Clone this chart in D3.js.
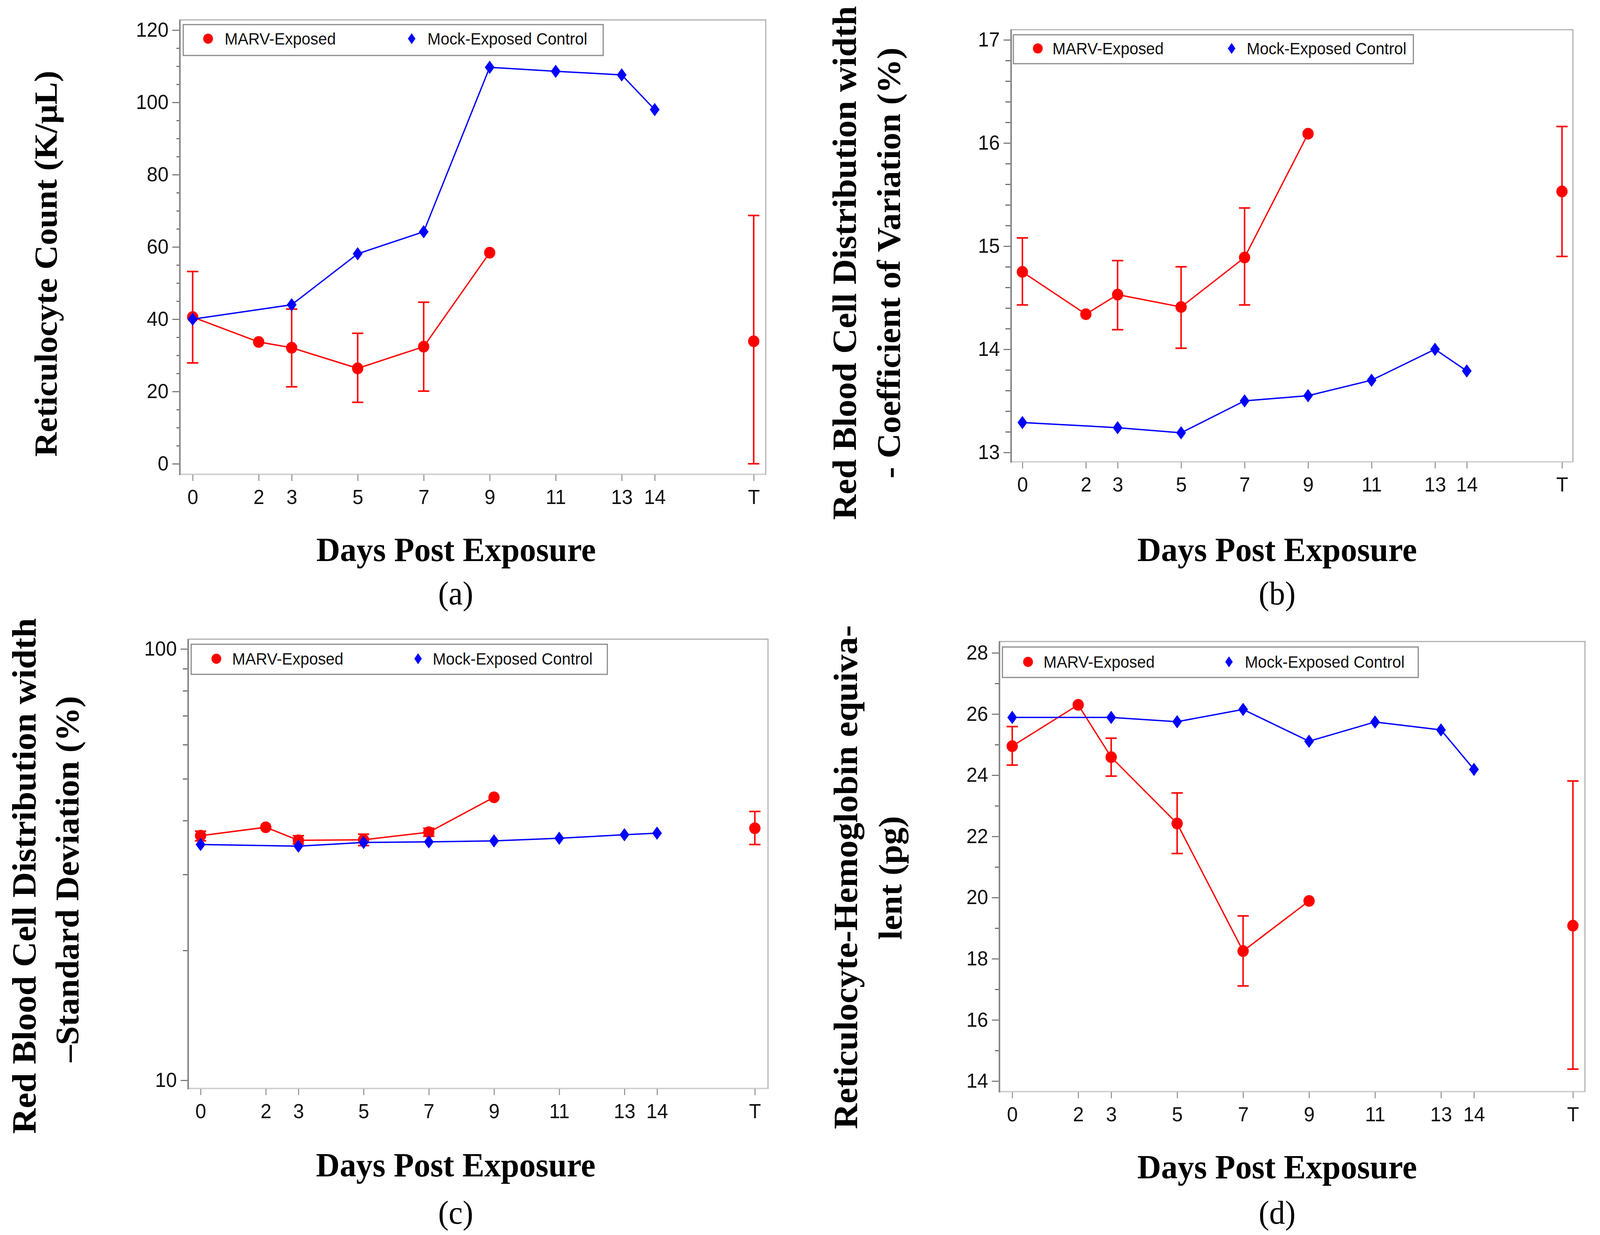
<!DOCTYPE html>
<html><head><meta charset="utf-8">
<script src="https://cdn.jsdelivr.net/npm/d3@7/dist/d3.min.js"></script>
<style>html,body{margin:0;padding:0;background:#fff;overflow:hidden;width:100%;height:100%;}
svg{display:block;width:100vw;height:100vh;}</style>
</head><body>
<svg id="chart" viewBox="0 0 4252 3161" preserveAspectRatio="none"></svg>
<script>
// ---------------- DATA ----------------
const xTickValues = [0, 2, 3, 5, 7, 9, 11, 13, 14, 17];
const xTickLabels = ["0", "2", "3", "5", "7", "9", "11", "13", "14", "T"];
const marvDays = [0, 2, 3, 5, 7, 9, 17];   // 17 = terminal (T)
const mockDays = [0, 3, 5, 7, 9, 11, 13, 14];
const seriesNames = ["MARV-Exposed", "Mock-Exposed Control"];

// (a) Reticulocyte count (K/uL)
const reticMarvMean = [40.6, 33.7, 32.1, 26.4, 32.4, 58.4, 33.9];
const reticMarvLo   = [27.9, null, 21.3, 17.0, 20.1, null, 0.0];
const reticMarvHi   = [53.2, null, 42.8, 36.1, 44.7, null, 68.7];
const reticMock     = [40.0, 44.0, 58.1, 64.2, 109.7, 108.6, 107.6, 98.0];

// (b) RDW-CV (%)
const rdwcvMarvMean = [14.75, 14.34, 14.53, 14.41, 14.89, 16.09, 15.53];
const rdwcvMarvLo   = [14.43, null, 14.19, 14.01, 14.43, null, 14.90];
const rdwcvMarvHi   = [15.08, null, 14.86, 14.80, 15.37, null, 16.16];
const rdwcvMock     = [13.29, 13.24, 13.19, 13.50, 13.55, 13.70, 14.00, 13.79];

// (c) RDW-SD (log scale)
const rdwsdMarvMean = [36.9, 38.6, 36.0, 36.1, 37.6, 45.3, 38.4];
const rdwsdMarvLo   = [35.9, null, 35.3, 35.0, 36.8, null, 35.2];
const rdwsdMarvHi   = [37.8, null, 36.9, 37.2, 38.4, null, 42.0];
const rdwsdMock     = [35.2, 34.9, 35.6, 35.7, 35.9, 36.4, 37.1, 37.4];

// (d) Reticulocyte hemoglobin equivalent (pg)
const retheMarvMean = [24.95, 26.30, 24.59, 22.42, 18.25, 19.89, 19.08];
const retheMarvLo   = [24.33, null, 23.97, 21.44, 17.11, null, 14.39];
const retheMarvHi   = [25.59, null, 25.21, 23.42, 19.40, null, 23.81];
const retheMock     = [25.89, 25.89, 25.75, 26.15, 25.11, 25.74, 25.48, 24.19];

const yTicksA = [0, 20, 40, 60, 80, 100, 120];
const yTicksB = [13, 14, 15, 16, 17];
const yTicksC = [10, 100];
const yTicksD = [14, 16, 18, 20, 22, 24, 26, 28];

const yTitleA = ["Reticulocyte Count (K/\u03bcL)"];
const yTitleB = ["Red Blood Cell Distribution width", "- Coefficient of Variation (%)"];
const yTitleC = ["Red Blood Cell Distribution width", "\u2013Standard Deviation (%)"];
const yTitleD = ["Reticulocyte-Hemoglobin equiva-", "lent (pg)"];
const xTitle = "Days Post Exposure";
const panelLabels = ["(a)", "(b)", "(c)", "(d)"];

// ---------------- LAYOUT ----------------
const RED = "#ff0000", BLUE = "#0000ff";
const SANS = "'Liberation Sans', Arial, sans-serif";
const SERIF = "'Liberation Serif', 'Times New Roman', serif";
const svg = d3.select("#chart");

const panels = [
  { label: panelLabels[0], frame: [478, 51, 2035, 1214], x: [512, 2003], yType: "lin",
    yDom: [0, 120], yRng: [1187, 77], yTicks: yTicksA, minorStep: 5, minorLen: 7,
    mean: reticMarvMean, lo: reticMarvLo, hi: reticMarvHi, mock: reticMock,
    legend: { box: [487, 63, 1603, 142], my: 99, rx: 553, rt: 597, bx: 1094, bt: 1136 },
    yTitle: yTitleA, yTitlePos: [[122, 675, 988]], xTitlePos: [1212, 1436], labPos: [1211, 1547] },
  { label: panelLabels[1], frame: [2687, 76, 4180, 1182], x: [2717, 4151], yType: "lin",
    yDom: [13, 17], yRng: [1158, 102], yTicks: yTicksB, minorStep: 0.2, minorLen: 13,
    mean: rdwcvMarvMean, lo: rdwcvMarvLo, hi: rdwcvMarvHi, mock: rdwcvMock,
    legend: { box: [2693, 89, 3756, 163], my: 124, rx: 2758, rt: 2797, bx: 3273, bt: 3313 },
    yTitle: yTitleB, yTitlePos: [[2245, 673, 1315], [2363, 673, 1103]], xTitlePos: [3394, 1436], labPos: [3394, 1547] },
  { label: panelLabels[2], frame: [500, 1636, 2041, 2786], x: [533, 2006], yType: "log",
    yDom: [10, 100], yRng: [2765, 1661], yTicks: yTicksC, minorLen: 12,
    mean: rdwsdMarvMean, lo: rdwsdMarvLo, hi: rdwsdMarvHi, mock: rdwsdMock,
    legend: { box: [508, 1649, 1614, 1726], my: 1686, rx: 575, rt: 617, bx: 1111, bt: 1150 },
    yTitle: yTitleC, yTitlePos: [[65, 2242, 1320], [180, 2250, 937]], xTitlePos: [1211, 3011], labPos: [1211, 3132] },
  { label: panelLabels[3], frame: [2656, 1642, 4212, 2794], x: [2690, 4180], yType: "lin",
    yDom: [14, 28], yRng: [2767, 1671], yTicks: yTicksD, minorStep: 1, minorLen: 10,
    mean: retheMarvMean, lo: retheMarvLo, hi: retheMarvHi, mock: retheMock,
    legend: { box: [2664, 1656, 3769, 1734], my: 1694, rx: 2732, rt: 2773, bx: 3266, bt: 3308 },
    yTitle: yTitleD, yTitlePos: [[2248, 2245, 1290], [2367, 2247, 317]], xTitlePos: [3394, 3016], labPos: [3394, 3132] }
];

function fitText(sel, target) {
  const len = sel.node().getComputedTextLength();
  const fs = parseFloat(sel.attr("font-size"));
  sel.attr("font-size", fs * target / len);
}

const diamond = (cx, cy, w, h) => `M${cx},${cy - h}L${cx + w},${cy}L${cx},${cy + h}L${cx - w},${cy}Z`;

panels.forEach(p => {
  const g = svg.append("g");
  const [L, T, R, B] = p.frame;
  const x = d3.scaleLinear().domain([0, 17]).range(p.x);
  const y = (p.yType === "log" ? d3.scaleLog() : d3.scaleLinear()).domain(p.yDom).range(p.yRng);

  // frame
  g.append("rect").attr("x", L).attr("y", T).attr("width", R - L).attr("height", B - T)
    .attr("fill", "#fff").attr("stroke", "#b0b0b0").attr("stroke-width", 3);
  g.append("line").attr("x1", L).attr("x2", R).attr("y1", B).attr("y2", B)
    .attr("stroke", "#d0d0d0").attr("stroke-width", 3);
  g.append("line").attr("x1", L).attr("x2", L).attr("y1", T).attr("y2", B + 2)
    .attr("stroke", "#808080").attr("stroke-width", 4);

  // minor y ticks
  let minor = [];
  if (p.yType === "log") { for (let v = 20; v <= 90; v += 10) minor.push(v); }
  else {
    const n = Math.round((p.yDom[1] - p.yDom[0]) / p.minorStep);
    for (let i = 0; i <= n; i++) minor.push(+(p.yDom[0] + i * p.minorStep).toFixed(4));
    minor = minor.filter(v => !p.yTicks.some(t => Math.abs(t - v) < 1e-6));
  }
  g.append("g").attr("transform", `translate(${L - 2},0)`)
    .call(d3.axisLeft(y).tickValues(minor).tickSize(p.minorLen).tickFormat(""))
    .call(s => s.select(".domain").remove())
    .call(s => s.selectAll("line").attr("stroke", "#555").attr("stroke-width", 2.5));

  // major y ticks
  g.append("g").attr("transform", `translate(${L - 2},0)`)
    .call(d3.axisLeft(y).tickValues(p.yTicks).tickSize(18).tickPadding(10).tickFormat(d3.format("d")))
    .call(s => s.select(".domain").remove())
    .call(s => s.selectAll("line").attr("stroke", "#666").attr("stroke-width", 2.5))
    .call(s => s.selectAll("text").attr("font-family", SANS).attr("font-size", 52).attr("fill", "#111"));

  // x axis ticks
  g.append("g").attr("transform", `translate(0,${B + 1})`)
    .call(d3.axisBottom(x).tickValues(xTickValues).tickSize(16).tickPadding(22)
      .tickFormat((d, i) => xTickLabels[i]))
    .call(s => s.select(".domain").remove())
    .call(s => s.selectAll("line").attr("stroke", "#888").attr("stroke-width", 2.5))
    .call(s => s.selectAll("text").attr("font-family", SANS).attr("font-size", 52).attr("fill", "#111"));

  // MARV series
  const marv = marvDays.map((d, i) => ({ d, v: p.mean[i], lo: p.lo[i], hi: p.hi[i] }));
  const line = d3.line().x(d => x(d.d)).y(d => y(d.v));
  g.append("path").datum(marv.filter(d => d.d <= 14)).attr("d", line)
    .attr("fill", "none").attr("stroke", RED).attr("stroke-width", 3.5);
  const eb = g.append("g").attr("stroke", RED).attr("stroke-width", 4);
  marv.filter(d => d.lo !== null).forEach(d => {
    eb.append("line").attr("x1", x(d.d)).attr("x2", x(d.d)).attr("y1", y(d.lo)).attr("y2", y(d.hi));
    [d.lo, d.hi].forEach(v => eb.append("line").attr("x1", x(d.d) - 15).attr("x2", x(d.d) + 15)
      .attr("y1", y(v)).attr("y2", y(v)));
  });
  g.selectAll(null).data(marv).enter().append("circle")
    .attr("cx", d => x(d.d)).attr("cy", d => y(d.v)).attr("r", 15).attr("fill", RED);

  // Mock series
  const mock = mockDays.map((d, i) => ({ d, v: p.mock[i] }));
  g.append("path").datum(mock).attr("d", line)
    .attr("fill", "none").attr("stroke", BLUE).attr("stroke-width", 3.5);
  g.selectAll(null).data(mock).enter().append("path")
    .attr("d", d => diamond(x(d.d), y(d.v), 13, 17)).attr("fill", BLUE);

  // legend
  const lg = p.legend, [bl, bt, br, bb] = lg.box;
  g.append("rect").attr("x", bl).attr("y", bt).attr("width", br - bl).attr("height", bb - bt)
    .attr("fill", "#fff").attr("stroke", "#8a8a8a").attr("stroke-width", 3);
  g.append("circle").attr("cx", lg.rx).attr("cy", lg.my).attr("r", 13).attr("fill", RED);
  g.append("path").attr("d", diamond(lg.bx, lg.my, 10, 14)).attr("fill", BLUE);
  g.append("text").attr("x", lg.rt).attr("y", lg.my + 15).attr("font-family", SANS)
    .attr("font-size", 42).attr("fill", "#111").text(seriesNames[0]);
  g.append("text").attr("x", lg.bt).attr("y", lg.my + 15).attr("font-family", SANS)
    .attr("font-size", 42).attr("fill", "#111").text(seriesNames[1]);

  // y title
  p.yTitle.forEach((t, i) => {
    const [tx, ty, tl] = p.yTitlePos[i];
    const s = g.append("text").attr("transform", `translate(${tx},${ty}) rotate(-90)`)
      .attr("text-anchor", "middle").attr("dy", "0.33em").attr("font-family", SERIF)
      .attr("font-weight", "bold").attr("font-size", 88).attr("fill", "#000").text(t);
    fitText(s, tl);
  });
  // x title
  const xt = g.append("text").attr("x", p.xTitlePos[0]).attr("y", p.xTitlePos[1])
    .attr("text-anchor", "middle").attr("font-family", SERIF).attr("font-weight", "bold")
    .attr("font-size", 88).attr("fill", "#000").text(xTitle);
  fitText(xt, 743);
  // panel label
  g.append("text").attr("x", p.labPos[0]).attr("y", p.labPos[1]).attr("text-anchor", "middle")
    .attr("font-family", SERIF).attr("font-size", 84).attr("fill", "#000").text(p.label);
});
</script>
</body></html>
